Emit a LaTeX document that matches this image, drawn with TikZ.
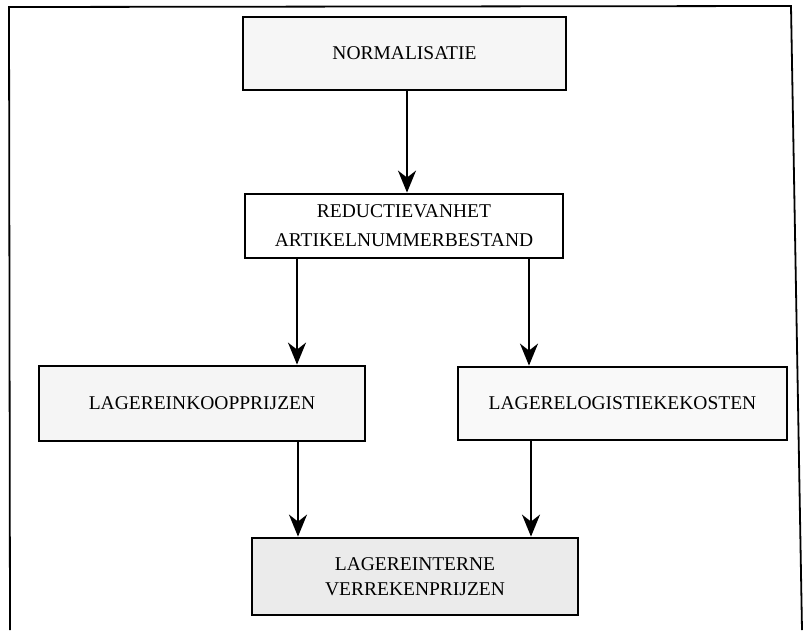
\documentclass[tikz,border=0pt]{standalone}
\usepackage{fontspec}
\setmainfont{Liberation Serif}
\usetikzlibrary{arrows.meta}
\begin{document}
\begin{tikzpicture}[x=1pt,y=-1pt,
  box/.style={draw=black, line width=2.8pt, inner sep=0pt, align=center,
    font=\fontsize{19.5}{29}\selectfont, text depth=0pt},
  arr/.style={line width=2pt, -{Stealth[length=22pt,width=18pt,inset=7pt]}},
  frame/.style={line width=1.8pt}]
\useasboundingbox (0,0) rectangle (804,630);
% outer frame (open at the bottom)
\coordinate (fbl) at (10,630);
\coordinate (ftl) at (9,7);
\coordinate (ftr) at (791,6);
\coordinate (fbr) at (802,630);
\draw[frame] (fbl) -- (ftl) -- (ftr) -- (fbr);
% boxes
\node[box, fill=gray!7, minimum width=323pt, minimum height=73pt] (n1) at (404.5,53.5) {NORMALISATIE};
\node[box, fill=white, minimum width=318pt, minimum height=64pt] (n2) at (404,226) {REDUCTIEVANHET\\ARTIKELNUMMERBESTAND};
\node[box, fill=gray!8, minimum width=326pt, minimum height=75pt] (n3) at (202,403.5) {LAGEREINKOOPPRIJZEN};
\node[box, fill=gray!5, minimum width=329pt, minimum height=73pt] (n4) at (622.5,403.5) {LAGERELOGISTIEKEKOSTEN};
\node[box, fill=gray!16, minimum width=326pt, minimum height=77pt, font=\fontsize{19.5}{25}\selectfont] (n5) at (415,576.5) {LAGEREINTERNE\\VERREKENPRIJZEN};
% arrow columns
\coordinate (c0) at (407,0);
\coordinate (c1) at (297,0);
\coordinate (c2) at (529,0);
\coordinate (c3) at (298,0);
\coordinate (c4) at (531,0);
\draw[arr] (n1.south -| c0) -- (n2.north -| c0);
\draw[arr] (n2.south -| c1) -- (n3.north -| c1);
\draw[arr] (n2.south -| c2) -- (n4.north -| c2);
\draw[arr] (n3.south -| c3) -- (n5.north -| c3);
\draw[arr] (n4.south -| c4) -- (n5.north -| c4);
\end{tikzpicture}
\end{document}
